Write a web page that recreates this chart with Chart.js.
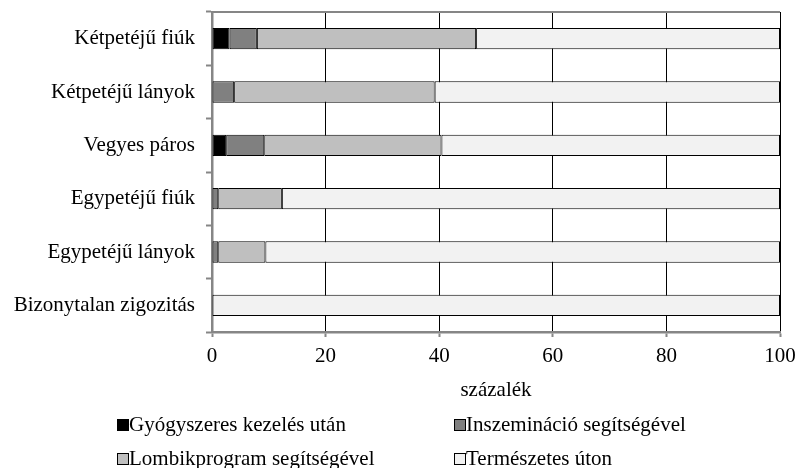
<!DOCTYPE html>
<html>
<head>
<meta charset="utf-8">
<script src="https://cdn.jsdelivr.net/npm/chart.js@4"></script>
<style>
  html, body { margin: 0; padding: 0; background: #fff; }
  #wrap { position: relative; width: 797px; height: 468px; }
  #c { position: absolute; left: 0; top: 0; }
  .lg-box { position: absolute; width: 10px; height: 10px; border: 1px solid #000; box-sizing: content-box; }
  .lg-txt { position: absolute; font-family: "Liberation Serif", "Times New Roman", serif; font-size: 21px; line-height: 24px; color: #000; white-space: nowrap; }
</style>
</head>
<body>
<div id="wrap">
  <canvas id="c" width="797" height="468"></canvas>
</div>
<script>
const categories = ['Kétpetéjű fiúk', 'Kétpetéjű lányok', 'Vegyes páros', 'Egypetéjű fiúk', 'Egypetéjű lányok', 'Bizonytalan zigozitás'];
const gyogyszeres = [3.1, 0, 2.5, 0, 0, 0];
const inszeminacio = [4.8, 3.9, 6.7, 1.1, 1.1, 0];
const lombik = [38.6, 35.3, 31.2, 11.2, 8.3, 0];
const termeszetes = [53.5, 60.8, 59.6, 87.7, 90.6, 100];
const xTicks = [0, 20, 40, 60, 80, 100];
const seriesLabels = ['Gyógyszeres kezelés után', 'Inszemináció segítségével', 'Lombikprogram segítségével', 'Természetes úton'];
const seriesColors = ['#000000', '#808080', '#bfbfbf', '#f2f2f2'];
const xTitle = 'százalék';

const FONT = '"Liberation Serif", "Times New Roman", serif';
const AXIS_GRAY = '#868686';

const topBorder = {
  id: 'topBorder',
  afterDatasetsDraw(chart) {
    const { ctx, chartArea } = chart;
    ctx.save();
    ctx.strokeStyle = AXIS_GRAY;
    ctx.lineWidth = 2;
    ctx.beginPath();
    ctx.moveTo(chartArea.left, chartArea.top);
    ctx.lineTo(chartArea.right, chartArea.top);
    ctx.stroke();
    ctx.restore();
  }
};

const values = [gyogyszeres, inszeminacio, lombik, termeszetes];
const datasets = values.map((d, i) => ({
  label: seriesLabels[i],
  data: d,
  backgroundColor: seriesColors[i],
  borderColor: '#000000',
  borderWidth: 1,
  borderSkipped: false,
  barPercentage: 0.4,
  categoryPercentage: 1.0
}));

const chart = new Chart(document.getElementById('c'), {
  type: 'bar',
  data: { labels: categories, datasets },
  options: {
    indexAxis: 'y',
    responsive: false,
    animation: false,
    devicePixelRatio: 1,
    layout: { padding: { left: 0, right: 17, top: 12, bottom: 61 } },
    plugins: { legend: { display: false }, tooltip: { enabled: false } },
    scales: {
      x: {
        stacked: true,
        min: 0,
        max: 100,
        afterBuildTicks(scale) { scale.ticks = xTicks.map(v => ({ value: v })); },
        afterFit(scale) { scale.height = 75; scale.paddingLeft = 0; scale.paddingRight = 0; },
        grid: { color: '#000000', lineWidth: 1, tickColor: AXIS_GRAY, tickLength: 5, tickWidth: 2 },
        border: { color: AXIS_GRAY, width: 2.5 },
        ticks: { color: '#000', padding: 7, font: { family: FONT, size: 21 }, maxRotation: 0 },
        title: { display: true, text: xTitle, color: '#000', font: { family: FONT, size: 21 }, padding: { top: 0, bottom: 4 } }
      },
      y: {
        stacked: true,
        afterFit(scale) { scale.width = 212; scale.paddingTop = 0; scale.paddingBottom = 0; },
        grid: { drawOnChartArea: false, offset: true, tickColor: AXIS_GRAY, tickLength: 6, tickWidth: 2 },
        border: { color: AXIS_GRAY, width: 2.5 },
        ticks: { color: '#000', padding: 11, font: { family: FONT, size: 21 } }
      }
    }
  },
  plugins: [topBorder]
});

// HTML legend built from the chart's datasets (2 x 2 grid)
const wrap = document.getElementById('wrap');
const cols = [117, 454];
const rowsBox = [419, 453];
const rowsTxt = [412, 446];
chart.data.datasets.forEach((ds, i) => {
  const col = i % 2, row = Math.floor(i / 2);
  const b = document.createElement('div');
  b.className = 'lg-box';
  b.style.left = cols[col] + 'px';
  b.style.top = rowsBox[row] + 'px';
  b.style.background = ds.backgroundColor;
  wrap.appendChild(b);
  const t = document.createElement('div');
  t.className = 'lg-txt';
  t.style.left = (cols[col] + 12) + 'px';
  t.style.top = rowsTxt[row] + 'px';
  t.textContent = ds.label;
  wrap.appendChild(t);
});
</script>
</body>
</html>
